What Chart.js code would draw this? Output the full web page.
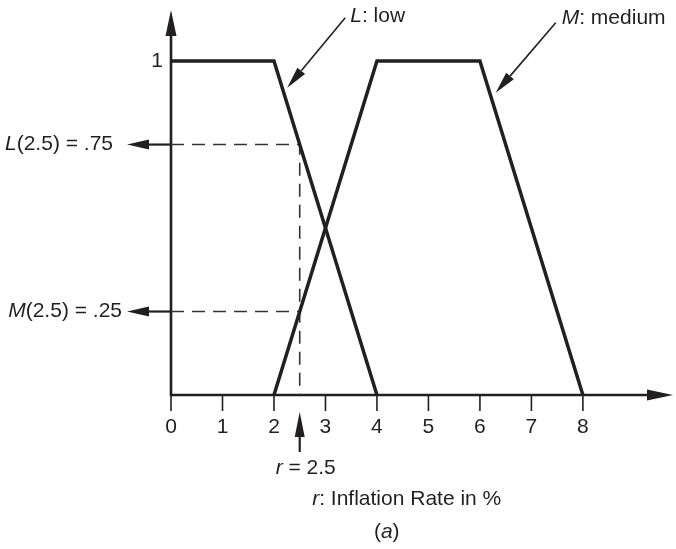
<!DOCTYPE html>
<html>
<head>
<meta charset="utf-8">
<script src="https://cdn.jsdelivr.net/npm/chart.js@4"></script>
<style>
  body { margin: 0; background: #fff; }
  #wrap { width: 676px; height: 549px; }
</style>
</head>
<body>
<div id="wrap"><canvas id="chart" width="676" height="549"></canvas></div>
<script>
// membership functions (x = inflation rate %, y = membership)
var lowX = [0, 2, 4];
var lowY = [1, 1, 0];
var medX = [2, 4, 6, 8];
var medY = [0, 1, 1, 0];
// the reading at r = 2.5
var rValue = 2.5;
var lowAtR = 0.75;
var medAtR = 0.25;
var xTicks = [0, 1, 2, 3, 4, 5, 6, 7, 8];
var yTicks = [1];

var INK = '#231f20';
var FONT = '"Liberation Sans", Arial, sans-serif';
var SIZE = '21px ';

function pts(xs, ys) {
  return xs.map(function (x, i) { return { x: x, y: ys[i] }; });
}

// draws text made of [text, italic] parts
function richText(ctx, parts, x, y, align) {
  var total = 0;
  parts.forEach(function (p) {
    ctx.font = (p[1] ? 'italic ' : '') + SIZE + FONT;
    total += ctx.measureText(p[0]).width;
  });
  var cx = x;
  if (align === 'right') cx = x - total;
  if (align === 'center') cx = x - total / 2;
  ctx.textAlign = 'left';
  ctx.textBaseline = 'middle';
  parts.forEach(function (p) {
    ctx.font = (p[1] ? 'italic ' : '') + SIZE + FONT;
    ctx.fillText(p[0], cx, y);
    cx += ctx.measureText(p[0]).width;
  });
}

function arrow(ctx, x1, y1, x2, y2, head, half, width) {
  var a = Math.atan2(y2 - y1, x2 - x1);
  var bx = x2 - head * Math.cos(a), by = y2 - head * Math.sin(a);
  ctx.lineWidth = width;
  ctx.beginPath();
  ctx.moveTo(x1, y1);
  ctx.lineTo(bx, by);
  ctx.stroke();
  ctx.beginPath();
  ctx.moveTo(x2, y2);
  ctx.lineTo(bx + half * Math.sin(a), by - half * Math.cos(a));
  ctx.lineTo(bx - half * Math.sin(a), by + half * Math.cos(a));
  ctx.closePath();
  ctx.fill();
}

var axesPlugin = {
  id: 'axesPlugin',
  beforeDatasetsDraw: function (chart) {
    var ctx = chart.ctx, xs = chart.scales.x, ys = chart.scales.y, area = chart.chartArea;
    var x0 = xs.getPixelForValue(0), y0 = ys.getPixelForValue(0);
    ctx.save();
    ctx.strokeStyle = INK;
    ctx.fillStyle = INK;
    // axes with arrows
    arrow(ctx, x0, y0 + 1, x0, area.top, 26, 5.5, 2.6);
    arrow(ctx, x0 - 1, y0, area.right, y0, 26, 5.5, 2.6);
    // x ticks and labels
    ctx.lineWidth = 1.6;
    xTicks.forEach(function (t) {
      var px = xs.getPixelForValue(t);
      ctx.beginPath();
      ctx.moveTo(px, y0);
      ctx.lineTo(px, y0 + 16);
      ctx.stroke();
      richText(ctx, [[String(t), false]], px, y0 + 32, 'center');
    });
    yTicks.forEach(function (t) {
      richText(ctx, [[String(t), false]], x0 - 8, ys.getPixelForValue(t), 'right');
    });
    ctx.restore();
  },
  afterDatasetsDraw: function (chart) {
    var ctx = chart.ctx, xs = chart.scales.x, ys = chart.scales.y;
    var x0 = xs.getPixelForValue(0), y0 = ys.getPixelForValue(0);
    var rx = xs.getPixelForValue(rValue);
    ctx.save();
    ctx.strokeStyle = INK;
    ctx.fillStyle = INK;

    // read-off arrows to the left of the y axis
    var yl = ys.getPixelForValue(lowAtR), ym = ys.getPixelForValue(medAtR);
    arrow(ctx, x0, yl, x0 - 44, yl, 22, 5, 2.2);
    arrow(ctx, x0, ym, x0 - 44, ym, 22, 5, 2.2);
    richText(ctx, [['L', true], ['(2.5) = .75', false]], x0 - 58, yl, 'right');
    richText(ctx, [['M', true], ['(2.5) = .25', false]], x0 - 49, ym, 'right');

    // r = 2.5 pointer under the axis
    arrow(ctx, rx, y0 + 57, rx, y0 + 17, 25, 5, 2.2);
    richText(ctx, [['r', true], [' = 2.5', false]], rx + 6, y0 + 73, 'center');
    richText(ctx, [['r', true], [': Inflation Rate in %', false]], rx + 107, y0 + 104, 'center');
    richText(ctx, [['(', false], ['a', true], [')', false]], rx + 87, y0 + 137, 'center');

    // curve names
    var lx = xs.getPixelForValue(2 + (1 - 0.92) * 2) + 5, ly = ys.getPixelForValue(0.92);
    arrow(ctx, lx + 58, ly - 70, lx, ly, 22, 5, 1.6);
    richText(ctx, [['L', true], [': low', false]], lx + 63, ly - 72, 'left');
    var mx = xs.getPixelForValue(6 + (1 - 0.905) * 2) + 6, my = ys.getPixelForValue(0.905);
    arrow(ctx, mx + 60, my - 70, mx, my, 22, 5, 1.6);
    richText(ctx, [['M', true], [': medium', false]], mx + 66, my - 75, 'left');
    ctx.restore();
  }
};

var solid = { borderColor: INK, borderWidth: 3.5, pointRadius: 0, tension: 0, borderJoinStyle: 'miter', showLine: true, fill: false };
var dashed = { borderColor: '#333', borderWidth: 1.6, pointRadius: 0, tension: 0, showLine: true, fill: false, borderDash: [13, 8] };

new Chart(document.getElementById('chart'), {
  type: 'line',
  data: {
    datasets: [
      Object.assign({ label: 'L: low', data: pts(lowX, lowY) }, solid),
      Object.assign({ label: 'M: medium', data: pts(medX, medY) }, solid),
      Object.assign({ label: 'L(2.5)', data: pts([0, rValue, rValue], [lowAtR, lowAtR, 0]) }, dashed),
      Object.assign({ label: 'M(2.5)', data: pts([0, rValue], [medAtR, medAtR]) }, dashed)
    ]
  },
  options: {
    responsive: false,
    animation: false,
    layout: { padding: { left: 171, right: 3, top: 10, bottom: 154 } },
    plugins: { legend: { display: false }, tooltip: { enabled: false } },
    scales: {
      x: { type: 'linear', min: 0, max: 9.75, display: false },
      y: { type: 'linear', min: 0, max: 1.153, display: false }
    }
  },
  plugins: [axesPlugin]
});
</script>
</body>
</html>
